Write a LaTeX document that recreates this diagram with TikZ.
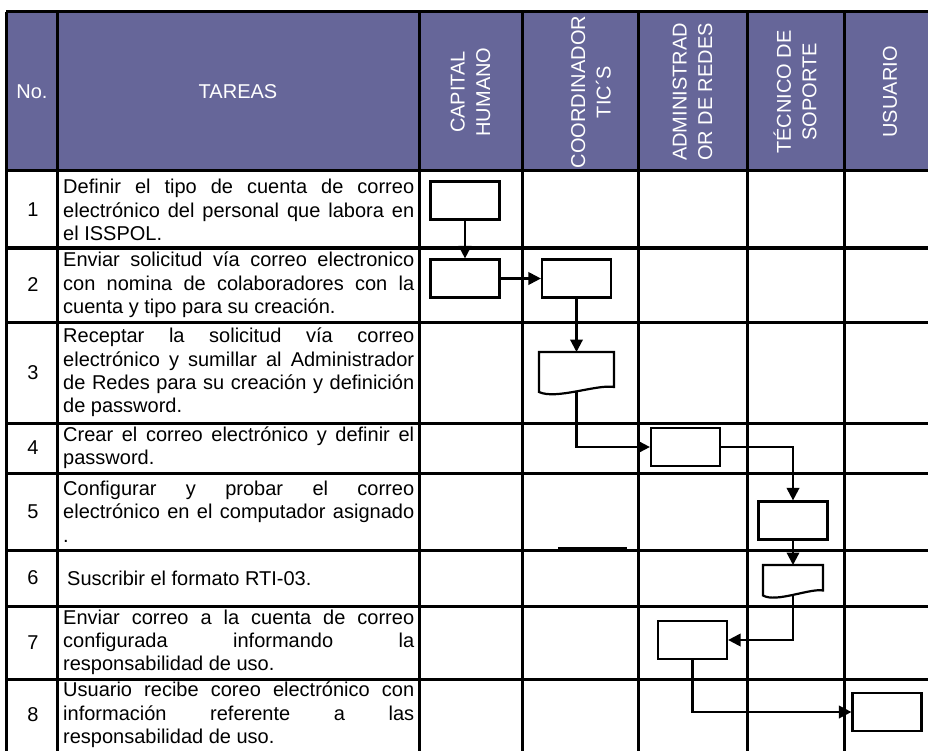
\documentclass[tikz,border=0pt]{standalone}
\usepackage{fontspec}
\setmainfont{Liberation Sans}
\usetikzlibrary{arrows.meta}
\definecolor{hdr}{HTML}{666699}
\newcommand\taskfont{\fontsize{20}{23.3}\selectfont}
\newcommand\fullline[1]{\hbox to 351pt{\spaceskip=.278em plus 1fil\relax #1}}
\newcommand\lastline[1]{\hbox{#1}}
\begin{document}
\begin{tikzpicture}[x=1pt,y=-1pt,
  tline/.style={line width=3pt, black},
  box/.style={draw, line width=2.2pt, minimum width=69pt, minimum height=38pt, inner sep=0pt, fill=white},
  conn/.style={line width=2.2pt, -{Triangle[length=12.5pt,width=12.5pt]}},
  hdrtext/.style={text=white, font=\fontsize{20}{25.5}\selectfont, align=center, inner sep=0pt},
  num/.style={font=\fontsize{20}{24}\selectfont, inner sep=0pt},
  task/.style={anchor=west, inner sep=0pt},
  docshape/.style={draw, line width=2.2pt, fill=white}
]
\useasboundingbox (0,0) rectangle (928,751);
\fill[hdr] (6,12) rectangle (928,171);
\foreach \yy in {171,248,322,423,473,550,606,679} \draw[tline] (6,\yy) -- (928,\yy);
\draw[tline] (6,12) -- (928,12);
\foreach \xx in {6,57,419,522,638,747,844} \draw[tline] (\xx,12) -- (\xx,751);

% header
\node[hdrtext] (hno) at (32,92) {No.};
\node[hdrtext] (htar) at (238,92) {TAREAS};
\node[hdrtext, rotate=90] (hcap) at (470.5,92) {CAPITAL\\HUMANO};
\node[hdrtext, rotate=90] (hcoo) at (591,92) {COORDINADOR\\TIC´S};
\node[hdrtext, rotate=90] (hadm) at (692.5,92) {ADMINISTRAD\\OR DE REDES};
\node[hdrtext, rotate=90] (htec) at (795,92) {TÉCNICO DE\\SOPORTE};
\node[hdrtext, rotate=90] (husu) at (890,92) {USUARIO};

% numbers
\node[num] (n1) at (33,209.5) {1};
\node[num] (n2) at (33,285) {2};
\node[num] (n3) at (33,372.5) {3};
\node[num] (n4) at (33,448) {4};
\node[num] (n5) at (33,511.5) {5};
\node[num] (n6) at (33,578) {6};
\node[num] (n7) at (33,642.5) {7};
\node[num] (n8) at (33,715) {8};

% tasks
\node[task] (t1) at (63,210) {\parbox{351pt}{\taskfont
  \fullline{Definir el tipo de cuenta de correo}
  \fullline{electrónico del personal que labora en}
  \lastline{el ISSPOL.}}};
\node[task] (t2) at (63,285) {\parbox{351pt}{\taskfont
  \fullline{Enviar solicitud vía correo electronico}
  \fullline{con nomina de colaboradores con la}
  \lastline{cuenta y tipo para su creación.}}};
\node[task] (t3) at (63,372.5) {\parbox{351pt}{\taskfont
  \fullline{Receptar la solicitud vía correo}
  \fullline{electrónico y sumillar al Administrador}
  \fullline{de Redes para su creación y definición}
  \lastline{de password.}}};
\node[task] (t4) at (63,448) {\parbox{351pt}{\taskfont
  \fullline{Crear el correo electrónico y definir el}
  \lastline{password.}}};
\node[task] (t5) at (63,511.5) {\parbox{351pt}{\taskfont
  \fullline{Configurar y probar el correo}
  \fullline{electrónico en el computador asignado}
  \lastline{.}}};
\node[task] (t6) at (63,578) {\parbox{351pt}{\taskfont
  \lastline{\hspace*{4pt}Suscribir el formato RTI-03.}}};
\node[task] (t7) at (63,642.5) {\parbox{351pt}{\taskfont
  \fullline{Enviar correo a la cuenta de correo}
  \fullline{configurada informando la}
  \lastline{responsabilidad de uso.}}};
\node[task] (t8) at (63,715) {\parbox{351pt}{\taskfont
  \fullline{Usuario recibe coreo electrónico con}
  \fullline{información referente a las}
  \lastline{responsabilidad de uso.}}};

% flow shapes
\node[box] (b1) at (465,200.5) {};
\node[box] (b2) at (465,278.5) {};
\node[box] (b3) at (576.5,278.5) {};
\node[box] (b4) at (685.5,447) {};
\node[box] (b5) at (793,520.5) {};
\node[box] (b7) at (692.5,640) {};
\node[box] (b8) at (887,712) {};

\draw[docshape] (539,352) -- (539,392)
  .. controls (556,400) and (597,384) .. coordinate[pos=0.5] (d1b) (614,387)
  -- (614,352) -- cycle;
\coordinate (d1t) at (576.5,352);
\draw[docshape] (763,565) -- (763,595.5)
  .. controls (776,603) and (810,588) .. coordinate[pos=0.5] (d2b) (823,590.5)
  -- (823,565) -- cycle;
\coordinate (d2t) at (793,565);

% stray line
\draw[line width=2pt] (558,548) -- (627,548);

% connectors
\draw[conn] (b1.south) -- (b2.north);
\draw[conn] (b2.east) -- (b3.west);
\draw[conn] (b3.south) -- (d1t);
\draw[conn] (d1b) |- (b4.west);
\draw[conn] (b4.east) -| (b5.north);
\draw[conn] (b5.south) -- (d2t);
\draw[conn] (d2b) |- (b7.east);
\draw[conn] (b7.south) |- (b8.west);
\end{tikzpicture}
\end{document}
